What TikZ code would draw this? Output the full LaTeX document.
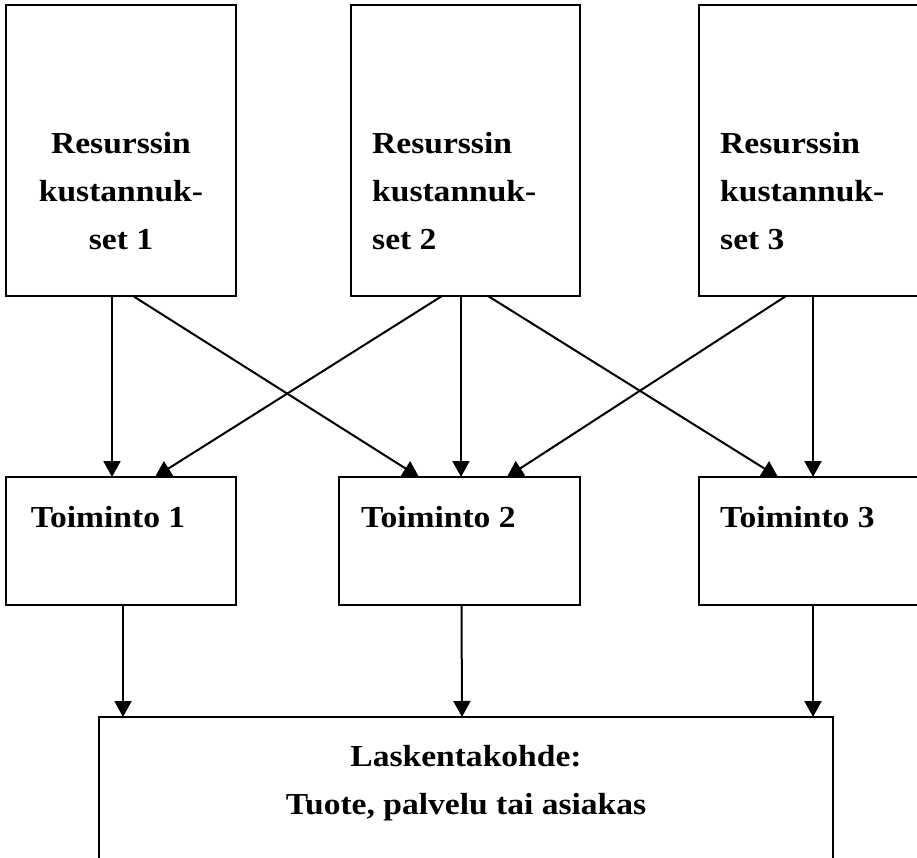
\documentclass[tikz,border=0pt]{standalone}
\usepackage{fontspec}
\setmainfont{Liberation Serif}[FakeStretch=1.1]
\usetikzlibrary{arrows.meta,calc}
\begin{document}
\begin{tikzpicture}[x=1pt,y=-1pt,
  box/.style={draw,line width=2pt,rectangle,inner sep=0pt,outer sep=0pt},
  lbl/.style={inner sep=0pt,font=\fontsize{30.5}{48}\selectfont\bfseries},
  arr/.style={line width=2pt,-{Triangle[length=16pt,width=17pt]}}]
\useasboundingbox (0,0) rectangle (917,858);
\clip (0,0) rectangle (917,858);
% top boxes
\node[box,minimum width=230pt,minimum height=291pt] (r1) at (121,150.5) {};
\node[box,minimum width=229pt,minimum height=291pt] (r2) at (465.5,150.5) {};
\node[box,minimum width=232pt,minimum height=291pt] (r3) at (815,150.5) {};
\node[lbl,align=center] (r1t) at (121,191) {Resurssin\\kustannuk-\\set 1};
\node[lbl,align=left,anchor=west] (r2t) at (372,191) {Resurssin\\kustannuk-\\set 2};
\node[lbl,align=left,anchor=west] (r3t) at (720,191) {Resurssin\\kustannuk-\\set 3};
% middle boxes
\node[box,minimum width=230pt,minimum height=128pt] (t1) at (121,541) {};
\node[box,minimum width=241pt,minimum height=128pt] (t2) at (459.5,541) {};
\node[box,minimum width=232pt,minimum height=128pt] (t3) at (815,541) {};
\node[lbl] (t1t) at (108,517) {Toiminto 1};
\node[lbl,anchor=west] (t2t) at (361,517) {Toiminto 2};
\node[lbl,anchor=west] (t3t) at (720,517) {Toiminto 3};
% bottom box
\node[box,minimum width=734pt,minimum height=183pt] (l) at (466,808.5) {};
\node[lbl,align=center] (lt) at (466,783) {Laskentakohde:\\Tuote, palvelu tai asiakas};
% arrows top -> middle
\draw[arr] ($(r1.south west)+(106,0)$) -- ($(t1.north west)+(106,0)$);
\draw[arr] ($(r1.south west)+(127,0)$) -- ($(t2.north west)+(80,0)$);
\draw[arr] ($(r2.south west)+(91,0)$) -- ($(t1.north west)+(149,0)$);
\draw[arr] ($(r2.south west)+(110,0)$) -- ($(t2.north west)+(122,0)$);
\draw[arr] ($(r2.south west)+(137,0)$) -- ($(t3.north west)+(79,0)$);
\draw[arr] ($(r3.south west)+(87,0)$) -- ($(t2.north west)+(168,0)$);
\draw[arr] ($(r3.south west)+(114,0)$) -- ($(t3.north west)+(114,0)$);
% arrows middle -> bottom
\draw[arr] ($(t1.south west)+(117,0)$) -- ($(l.north west)+(24,0)$);
\draw[arr] ($(t2.south west)+(122.5,0)$) -- ($(l.north west)+(363,0)$);
\draw[arr] ($(t3.south west)+(114,0)$) -- ($(l.north west)+(714,0)$);
\end{tikzpicture}
\end{document}
